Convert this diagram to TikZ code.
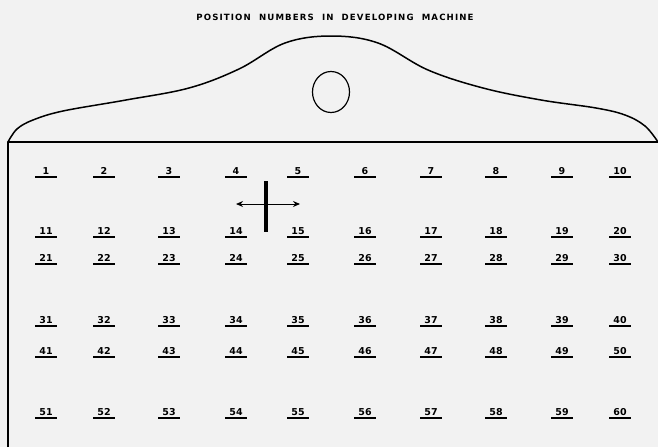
\documentclass[tikz,border=0pt]{standalone}
\usepackage{fontspec}
\setmainfont{Liberation Sans}
\newfontfamily\numfont{DejaVu Sans}
\newfontfamily\titlefam{DejaVu Sans}[LetterSpace=13]
\usetikzlibrary{arrows.meta,calc}
\definecolor{bgc}{HTML}{F2F2F2}
\begin{document}
\begin{tikzpicture}[x=1pt,y=-1pt,
  num/.style={font=\numfont\bfseries\fontsize{9.5}{9.5}\selectfont, inner sep=0pt, anchor=base},
  uline/.style={line width=1.3pt},
  outline/.style={line width=1.5pt, line join=round},
  titlefont/.style={font=\titlefam\bfseries\fontsize{8.6}{8.6}\selectfont, inner sep=0pt},
  tip/.style={{Stealth[length=7pt,width=6pt]}-{Stealth[length=7pt,width=6pt]}, line width=1pt}
]
\fill[bgc] (0,0) rectangle (658,447);
\useasboundingbox (0,0) rectangle (658,447);

% title
\node[titlefont] (title) at (335,17) {POSITION\ \ NUMBERS\ \ IN\ \ DEVELOPING\ \ MACHINE};

% top shape
\draw[outline] plot[smooth, tension=0.6] coordinates {(8,142) (17,129) (33,120) (63,111) (126,100) (189,88) (239,69) (285,43) (331,36) (378,43) (428,70) (483,88) (541,100) (596,108) (625,115) (645,126) (658,142)};
\draw[outline] (8,447) -- (8,142) -- (658,142);
\draw[line width=1.2pt] (331,92) ellipse [x radius=18.5, y radius=20.5];

% numbers
\foreach \r [count=\ri from 0] in {177,237,264,326,357,418} {
  \foreach \c [count=\ci from 1] in {46,104,169,236,298,365,431,496,562,620} {
    \pgfmathtruncatemacro\k{\ri*10+\ci}
    \node[num] (n\k) at (\c,\r-3) {\k};
    \draw[uline] ($(n\k.base)+(-11,3)$) -- ($(n\k.base)+(11,3)$);
  }
}

% cross with arrow
\coordinate (arL) at (236,204);
\coordinate (arR) at (300,204);
\coordinate (barT) at (266,181);
\coordinate (barB) at (266,232);
\draw[tip] (arL) -- (arR);
\draw[line width=4pt] (barT) -- (barB);
\end{tikzpicture}
\end{document}
